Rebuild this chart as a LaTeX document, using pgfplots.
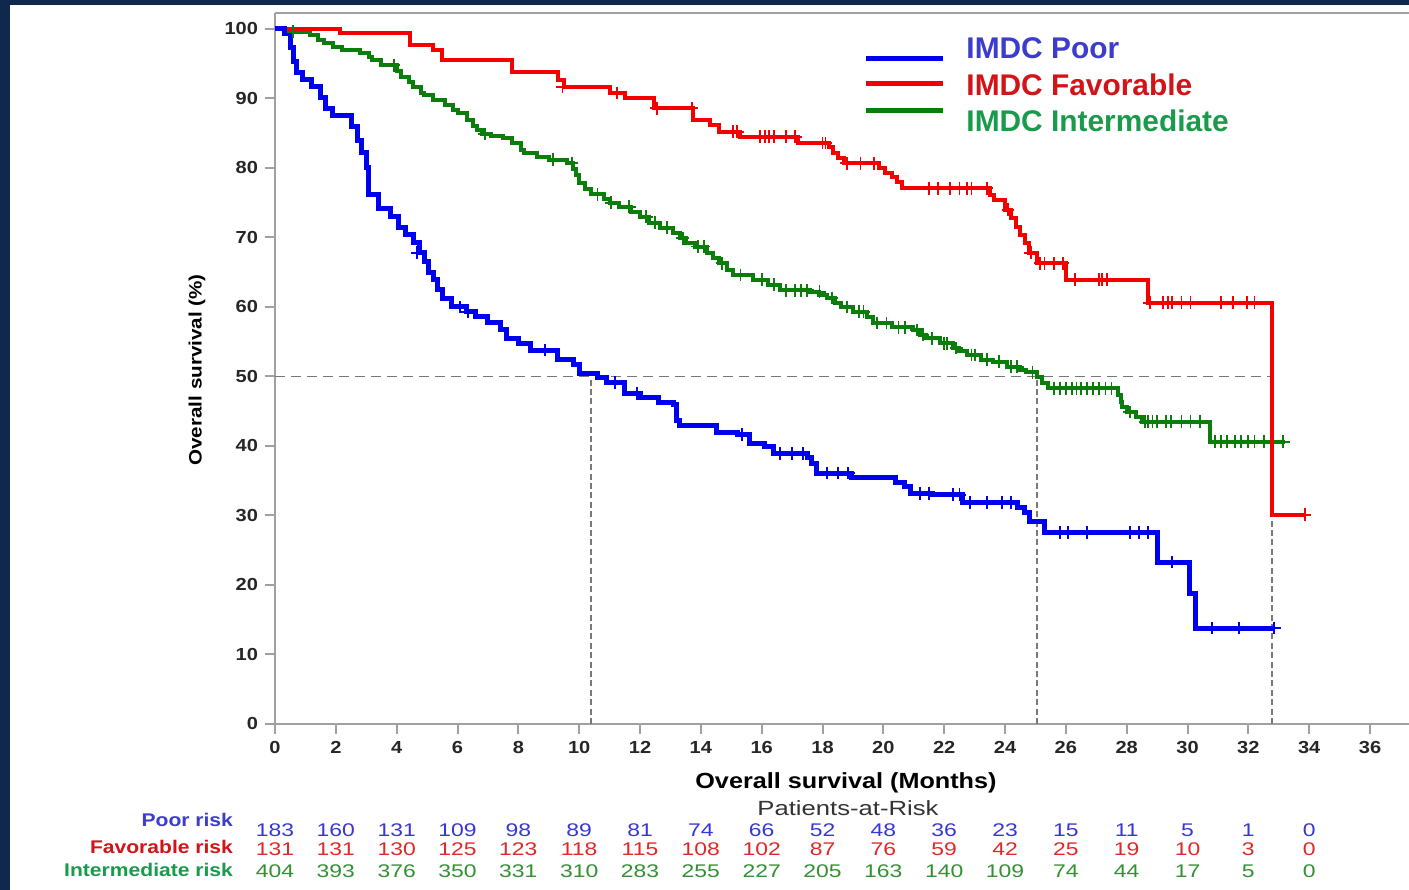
\documentclass[border=0pt]{standalone}
\usepackage{fontspec}
\setmainfont{Liberation Sans}
\newfontfamily\sw[FakeStretch=1.15]{Liberation Sans}
\newfontfamily\rw[FakeStretch=1.25]{Liberation Sans}
\usepackage{pgfplots}
\pgfplotsset{compat=1.18}
\usetikzlibrary{backgrounds,calc}

\definecolor{navy}{RGB}{14,40,78}
\definecolor{axgray}{RGB}{160,160,160}
\definecolor{refgray}{RGB}{120,120,120}
\definecolor{kmblue}{RGB}{0,0,240}
\definecolor{kmred}{RGB}{245,0,0}
\definecolor{kmgreen}{RGB}{10,125,10}
\definecolor{txblue}{RGB}{60,60,205}
\definecolor{txred}{RGB}{210,20,25}
\definecolor{txgreen}{RGB}{25,155,75}
\definecolor{rkblue}{RGB}{55,55,215}
\definecolor{rkred}{RGB}{225,40,40}
\definecolor{rkgreen}{RGB}{50,145,50}

\tikzset{
    km/.style={const plot, mark=none},
    cens/.style={only marks, mark=+, mark size=3.2bp, mark options={line width=0.9bp}},
    refline/.style={refgray, line width=0.7bp},
    rknum/.style={font=\rw\fontsize{9.2}{11}\selectfont},
    rklab/.style={font=\sw\bfseries\fontsize{9.2}{11}\selectfont, anchor=east},
    legtxt/.style={font=\bfseries\fontsize{15}{18}\selectfont, anchor=west},
}

\begin{document}
\begin{tikzpicture}
\begin{axis}[
    width=567bp, height=355.5bp, scale only axis,
    xmin=0, xmax=37.28, ymin=0, ymax=102.3,
    axis lines*=left,
    axis line style={axgray, line width=1bp},
    tick style={axgray, line width=1bp},
    tick align=outside,
    major tick length=5bp,
    xtick={0,2,...,36},
    ytick={0,10,...,100},
    /pgf/number format/assume math mode=true,
    tick label style={font=\sw\bfseries\fontsize{8.75}{10}\selectfont, text=black!85},
    xlabel={Overall survival (Months)},
    ylabel={Overall survival (\%)},
    xlabel style={font=\sw\bfseries\fontsize{11}{13}\selectfont,
                  at={(axis description cs:0.5035,-0.083)}, anchor=center},
    ylabel style={font=\sw\bfseries\fontsize{9}{11}\selectfont,
                  at={(axis description cs:-0.0688,0.498)}, anchor=center},
    clip=false,
]
    \coordinate (tl) at (rel axis cs:0,1);
    \coordinate (br) at (rel axis cs:1,0);
    \coordinate (o) at (axis cs:0,0);
    \draw[axgray, line width=1bp] (rel axis cs:0,1) -- (rel axis cs:1,1);

    % median reference lines
    \draw[refline, dash pattern=on 5bp off 3bp] (axis cs:0,50) -- (axis cs:32.77,50);
    \draw[refline, dash pattern=on 3bp off 1.7bp] (axis cs:10.39,0) -- (axis cs:10.39,50);
    \draw[refline, dash pattern=on 3bp off 1.7bp] (axis cs:25.05,0) -- (axis cs:25.05,50);
    \draw[refline, dash pattern=on 3bp off 1.7bp] (axis cs:32.77,0) -- (axis cs:32.77,50);

    % IMDC Intermediate
    \addplot[km, kmgreen, line width=2bp] table {
t s
0 100
0.6 99.6
1.15 99.2
1.4 98.4
1.6 98.0
1.9 97.4
2.2 97.0
2.8 96.6
3.1 96.0
3.2 95.5
3.5 94.8
4.0 94.0
4.15 93.1
4.4 92.3
4.54 91.7
4.8 90.8
4.9 90.5
5.2 89.8
5.6 89.1
5.85 88.4
6.0 87.9
6.3 86.9
6.5 86.1
6.64 85.5
6.8 84.9
7.1 84.6
7.5 84.3
7.8 83.6
8.1 82.6
8.2 82.2
8.6 81.6
9.0 81.2
9.6 80.7
9.8 79.9
9.88 79.0
10.0 77.8
10.2 77.0
10.4 76.2
10.8 75.6
11.0 75.0
11.3 74.4
11.7 73.6
12.0 73.0
12.3 72.1
12.66 71.4
13.1 70.6
13.3 69.9
13.5 69.2
13.8 68.7
14.2 67.8
14.4 67.0
14.6 66.3
14.86 65.3
15.05 64.6
15.7 63.9
16.2 63.2
16.6 62.4
17.6 62.2
17.9 61.7
18.15 61.3
18.4 60.6
18.6 60.0
19.0 59.3
19.46 58.6
19.66 57.7
20.3 57.1
20.97 56.7
21.2 56.0
21.4 55.5
21.86 54.8
22.3 54.1
22.5 53.6
22.75 53.1
23.2 52.4
23.6 52.1
24.06 51.4
24.5 51.0
24.7 50.6
25.05 49.9
25.2 49.1
25.4 48.3
27.7 47.3
27.8 46.3
27.85 45.6
28.0 44.9
28.3 44.2
28.5 43.5
30.74 40.6
33.2 40.6
};
    \addplot[cens, kmgreen] table {
t s
0.6 99.6
3.9 94.8
6.9 84.9
9.15 81.2
9.76 80.7
10.6 76.2
11.05 75.0
11.65 74.4
12.2 73.0
12.5 72.1
12.9 71.4
13.4 69.9
13.9 68.7
14.1 68.7
14.7 66.3
15.3 64.6
16.0 63.9
16.4 63.2
16.8 62.4
17.1 62.4
17.3 62.4
17.5 62.4
17.9 62.2
18.3 61.3
18.8 60.0
19.2 59.3
19.35 59.3
19.8 57.7
20.1 57.7
20.5 57.1
20.7 57.1
21.1 56.7
21.3 56.0
21.6 55.5
22.0 54.8
22.1 54.8
22.4 54.1
22.9 53.1
23.0 53.1
23.4 52.4
23.8 52.1
24.2 51.4
24.4 51.4
24.9 50.6
25.6 48.3
25.8 48.3
26.0 48.3
26.2 48.3
26.35 48.3
26.5 48.3
26.7 48.3
26.9 48.3
27.1 48.3
27.3 48.3
27.5 48.3
28.1 44.9
28.6 43.5
28.7 43.5
28.85 43.5
29.0 43.5
29.3 43.5
29.45 43.5
29.8 43.5
30.1 43.5
30.4 43.5
30.9 40.6
31.1 40.6
31.3 40.6
31.55 40.6
31.75 40.6
32.0 40.6
32.2 40.6
32.5 40.6
33.15 40.6
};

    % IMDC Favorable
    \addplot[km, kmred, line width=2bp] table {
t s
0 100
2.14 99.4
4.44 97.7
5.2 97.0
5.5 95.5
7.8 93.8
9.3 92.7
9.5 91.7
11.0 90.8
11.5 90.0
12.45 88.6
13.75 86.9
14.3 86.2
14.6 85.2
15.3 84.5
17.2 83.6
18.2 83.0
18.35 82.2
18.5 81.4
18.7 80.7
19.85 80.0
20.05 79.3
20.3 78.7
20.45 78.0
20.6 77.1
23.5 76.1
23.65 75.4
24.0 74.0
24.2 72.8
24.35 71.5
24.5 70.3
24.65 69.2
24.8 67.8
25.05 66.3
26.0 63.9
28.7 60.6
32.77 30.1
33.9 30.1
};
    \addplot[cens, kmred] table {
t s
9.45 91.7
11.25 90.8
12.55 88.6
13.7 88.6
15.05 85.2
15.2 85.2
15.95 84.5
16.1 84.5
16.25 84.5
16.4 84.5
16.8 84.5
17.1 84.5
18.0 83.6
18.1 83.6
18.8 80.7
19.25 80.7
19.7 80.7
21.5 77.1
21.8 77.1
22.2 77.1
22.5 77.1
22.75 77.1
22.9 77.1
23.4 77.1
24.1 74.0
24.85 67.8
25.15 66.3
25.3 66.3
25.6 66.3
25.9 66.3
26.3 63.9
27.1 63.9
27.2 63.9
27.35 63.9
28.76 60.6
29.2 60.6
29.36 60.6
29.5 60.6
29.8 60.6
30.1 60.6
31.1 60.6
31.5 60.6
31.95 60.6
32.2 60.6
33.86 30.1
};

    % IMDC Poor
    \addplot[km, kmblue, line width=2.5bp] table {
t s
0 100
0.3 99.4
0.5 97.4
0.6 95.3
0.7 93.7
0.9 92.7
1.2 91.7
1.5 90.2
1.65 88.6
1.9 87.6
2.5 85.9
2.7 84.0
2.85 82.2
3.0 80.1
3.07 76.2
3.4 74.2
3.8 73.0
4.05 71.5
4.3 70.5
4.54 69.3
4.75 67.8
4.9 66.5
5.05 65.0
5.2 63.9
5.35 62.5
5.5 61.2
5.8 60.0
6.3 59.3
6.6 58.6
7.0 57.7
7.4 56.7
7.6 55.5
8.0 54.8
8.4 53.8
9.3 52.4
9.8 51.7
10.0 50.5
10.6 49.9
10.9 49.1
11.5 47.6
12.0 47.0
12.6 46.2
13.1 45.9
13.2 43.7
13.3 43.0
14.5 42.0
15.2 41.6
15.6 40.4
16.1 39.9
16.4 38.9
17.5 38.4
17.65 37.5
17.8 36.1
18.95 35.4
20.4 34.8
20.7 34.1
20.9 33.2
21.6 33.0
22.6 31.9
24.4 31.2
24.65 30.4
24.8 29.1
25.3 27.5
29.0 23.3
30.05 18.8
30.25 13.8
32.85 13.8
};
    \addplot[cens, kmblue] table {
t s
4.67 67.8
6.08 60.0
6.34 59.3
8.88 53.8
11.18 49.1
11.9 47.6
15.35 41.6
16.6 38.9
17.0 38.9
17.35 38.9
18.15 36.1
18.5 36.1
18.85 36.1
21.2 33.2
21.5 33.2
22.3 33.0
22.5 33.0
22.85 31.9
23.4 31.9
23.9 31.9
24.2 31.9
25.8 27.5
26.07 27.5
26.7 27.5
28.1 27.5
28.4 27.5
28.7 27.5
29.5 23.3
30.8 13.8
31.7 13.8
32.85 13.8
};

    % legend
    \draw[kmblue, line width=2.4bp] (axis cs:19.43,95.8) -- (axis cs:21.96,95.8);
    \draw[kmred, line width=2.4bp] (axis cs:19.43,92.1) -- (axis cs:21.96,92.1);
    \draw[kmgreen, line width=2.4bp] (axis cs:19.43,88.3) -- (axis cs:21.96,88.3);
    \node[legtxt, text=txblue] at (axis cs:22.5,97.3) {IMDC Poor};
    \node[legtxt, text=txred] at (axis cs:22.5,91.9) {IMDC Favorable};
    \node[legtxt, text=txgreen] at (axis cs:22.5,86.8) {IMDC Intermediate};
\end{axis}

% patients at risk
\node[font=\rw\fontsize{10.3}{12}\selectfont, text=black!80] at ([shift={(286.5bp,-42bp)}]o) {Patients-at-Risk};
\node[rklab, text=txblue] at ([shift={(-17.5bp,-48bp)}]o) {Poor risk};
\node[rklab, text=txred] at ([shift={(-17.5bp,-61.5bp)}]o) {Favorable risk};
\node[rklab, text=txgreen] at ([shift={(-17.5bp,-73bp)}]o) {Intermediate risk};
\foreach \n [count=\i from 0] in {183,160,131,109,98,89,81,74,66,52,48,36,23,15,11,5,1,0}
    \node[rknum, text=rkblue] at ([shift={({\i*30.418bp},-53bp)}]o) {\n};
\foreach \n [count=\i from 0] in {131,131,130,125,123,118,115,108,102,87,76,59,42,25,19,10,3,0}
    \node[rknum, text=rkred] at ([shift={({\i*30.418bp},-62.5bp)}]o) {\n};
\foreach \n [count=\i from 0] in {404,393,376,350,331,310,283,255,227,205,163,140,109,74,44,17,5,0}
    \node[rknum, text=rkgreen] at ([shift={({\i*30.418bp},-73.5bp)}]o) {\n};

\begin{scope}[on background layer]
    \fill[navy] ([shift={(-137.5bp,6.5bp)}]tl) rectangle ([shift={(0,-83bp)}]br);
    \fill[white] ([shift={(-132.5bp,4bp)}]tl) rectangle ([shift={(0,-83bp)}]br);
\end{scope}
\pgfresetboundingbox
\path[use as bounding box] ([shift={(-137.5bp,6.5bp)}]tl) rectangle ([shift={(0,-83bp)}]br);
\end{tikzpicture}
\end{document}
